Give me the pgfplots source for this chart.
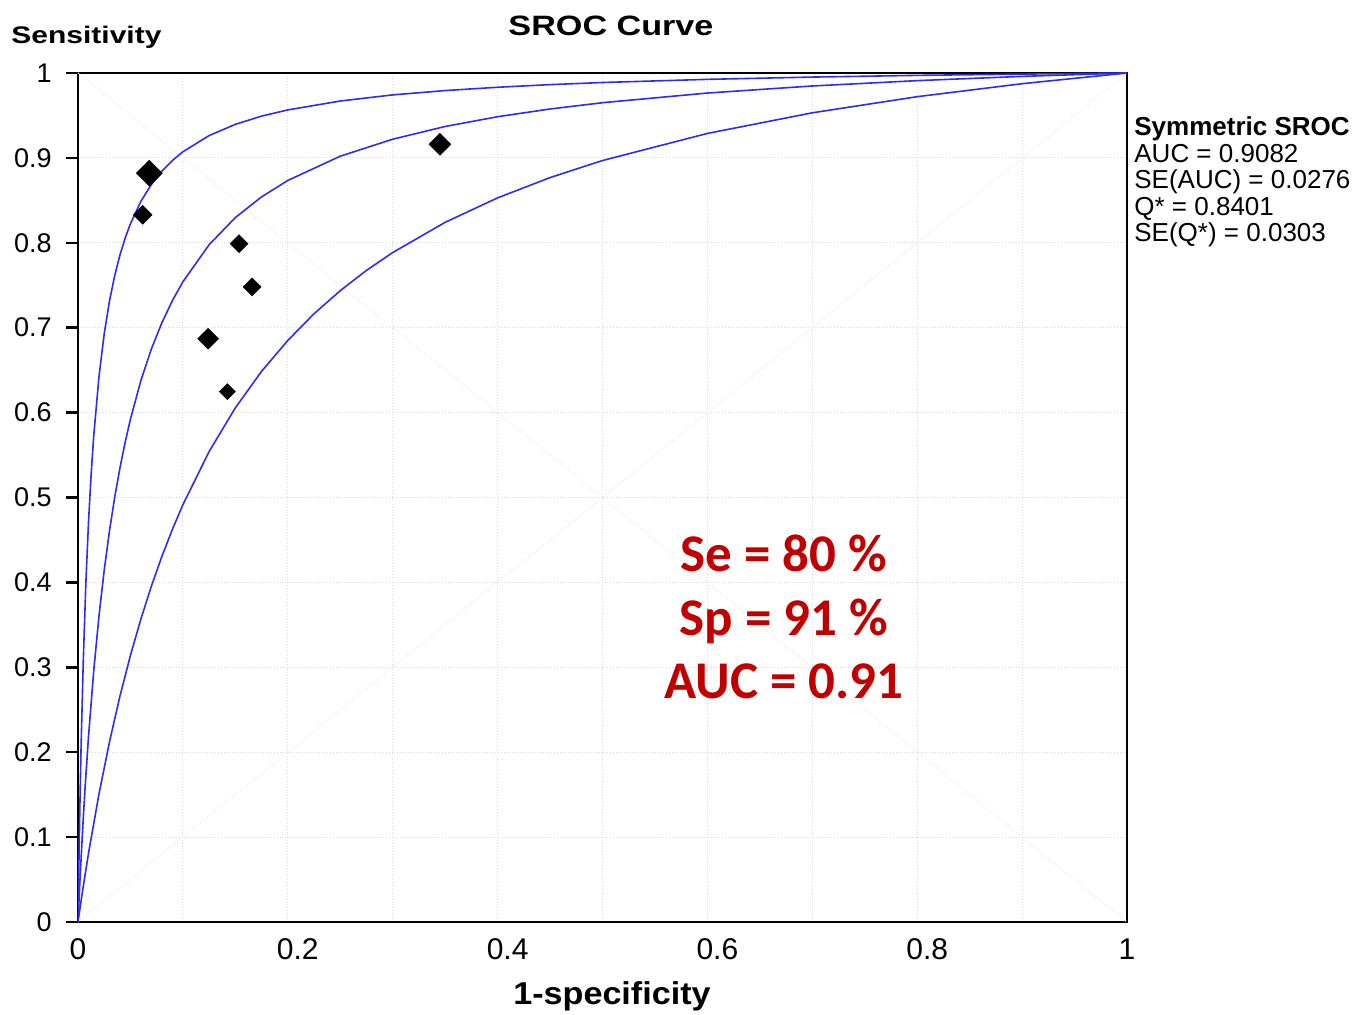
\documentclass[border=0pt]{standalone}
\usepackage{pgfplots}
\pgfplotsset{compat=1.18}
\usepackage{fontspec}
\setmainfont{Liberation Sans}
\newfontfamily\carlito{Carlito}
\definecolor{curveblue}{RGB}{45,45,235}
\definecolor{redtxt}{RGB}{192,0,0}
\begin{document}
\begin{tikzpicture}
\path[use as bounding box] (-39pt,-46pt) rectangle (639pt,461pt);
\begin{axis}[
  at={(0,0)}, anchor=south west,
  scale only axis, width=524.5pt, height=424.5pt,
  xmin=0, xmax=1, ymin=0, ymax=1,
  axis line style={line width=1pt, black},
  xtick={0,0.2,0.4,0.6,0.8,1},
  xticklabels={0,\hspace*{10pt}0.2,\hspace*{10pt}0.4,\hspace*{10pt}0.6,\hspace*{10pt}0.8,1},
  minor xtick={0.1,0.3,0.5,0.7,0.9},
  ytick={0,0.1,0.2,0.3,0.4,0.5,0.6,0.7,0.8,0.9,1},
  yticklabels={0,0.1,0.2,0.3,0.4,0.5,0.6,0.7,0.8,0.9,1},
  xtick pos=bottom, ytick pos=left,
  grid=both,
  grid style={gray!30, densely dotted, line width=0.6pt},
  minor tick length=0pt,
  tick align=outside, major tick length=6pt,
  xtick style={draw=none},
  ytick style={line width=1.2pt, black},
  xticklabel style={font=\fontsize{15}{18}\selectfont, anchor=north, inner sep=0pt, yshift=-2pt},
  yticklabel style={font=\fontsize{13.5}{15}\selectfont, anchor=east, inner sep=0pt, xshift=-7pt},
  clip=true,
]
% faint diagonals
\addplot[gray!15, densely dotted, line width=0.6pt] coordinates {(0,0) (1,1)};
\addplot[gray!15, densely dotted, line width=0.6pt] coordinates {(0,1) (1,0)};
% upper curve
\addplot[curveblue, line width=0.8pt] coordinates {
(0,0) (0.001,0.0810) (0.002,0.1499) (0.003,0.2094) (0.005,0.3066) (0.0075,0.3994)
(0.01,0.4706) (0.0125,0.5269) (0.015,0.5727) (0.02,0.6423) (0.025,0.6929) (0.03,0.7313)
(0.035,0.7614) (0.04,0.7857) (0.045,0.8057) (0.05,0.8224) (0.06,0.8489) (0.07,0.8688)
(0.08,0.8844) (0.09,0.8969) (0.1,0.9072) (0.125,0.9263) (0.15,0.9395) (0.175,0.9492)
(0.2,0.9565) (0.25,0.9670) (0.3,0.9742) (0.35,0.9793) (0.4,0.9832) (0.45,0.9863)
(0.5,0.9888) (0.6,0.9925) (0.7,0.9952) (0.8,0.9972) (0.9,0.9987) (1,1)};
% middle curve
\addplot[curveblue, line width=0.8pt] coordinates {
(0,0) (0.001,0.0269) (0.002,0.0524) (0.005,0.1218) (0.007,0.1629) (0.01,0.2180)
(0.015,0.2959) (0.02,0.3603) (0.025,0.4144) (0.03,0.4605) (0.035,0.5003) (0.04,0.5349)
(0.045,0.5653) (0.05,0.5923) (0.06,0.6379) (0.07,0.6751) (0.08,0.7059) (0.09,0.7319)
(0.1,0.7541) (0.125,0.7977) (0.15,0.8297) (0.175,0.8541) (0.2,0.8734) (0.25,0.9020)
(0.3,0.9220) (0.35,0.9370) (0.4,0.9485) (0.45,0.9576) (0.5,0.9650) (0.6,0.9764)
(0.7,0.9847) (0.8,0.9910) (0.9,0.9960) (1,1)};
% lower curve
\addplot[curveblue, line width=0.8pt] coordinates {
(0,0) (0.002,0.0171) (0.005,0.0419) (0.01,0.0808) (0.02,0.1508) (0.03,0.2120)
(0.04,0.2661) (0.05,0.3141) (0.06,0.3570) (0.07,0.3957) (0.08,0.4307) (0.09,0.4625)
(0.1,0.4915) (0.125,0.5541) (0.15,0.6056) (0.175,0.6486) (0.2,0.6850) (0.225,0.7164)
(0.25,0.7436) (0.275,0.7675) (0.3,0.7885) (0.35,0.8241) (0.4,0.8529) (0.45,0.8768)
(0.5,0.8969) (0.6,0.9288) (0.7,0.9531) (0.8,0.9721) (0.9,0.9874) (1,1)};
% study points
\addplot[only marks, mark=square*, mark size=4.6pt, mark options={rotate=45, fill=black, draw=black, line width=0.2pt}] coordinates {(0.068,0.882)};
\addplot[only marks, mark=square*, mark size=3.9pt, mark options={rotate=45, fill=black, draw=black, line width=0.2pt}] coordinates {(0.345,0.916)};
\addplot[only marks, mark=square*, mark size=3.7pt, mark options={rotate=45, fill=black, draw=black, line width=0.2pt}] coordinates {(0.124,0.687)};
\addplot[only marks, mark=square*, mark size=3.35pt, mark options={rotate=45, fill=black, draw=black, line width=0.2pt}] coordinates {(0.0617,0.833)};
\addplot[only marks, mark=square*, mark size=3.2pt, mark options={rotate=45, fill=black, draw=black, line width=0.2pt}] coordinates {(0.1535,0.799) (0.166,0.748)};
\addplot[only marks, mark=square*, mark size=2.85pt, mark options={rotate=45, fill=black, draw=black, line width=0.2pt}] coordinates {(0.1424,0.6246)};
\end{axis}
% titles and labels
\node[anchor=base, font=\bfseries\fontsize{14}{16}\selectfont, inner sep=0pt] at (266.5pt,443pt) {\scalebox{1.22}[1]{SROC Curve}};
\node[anchor=base west, font=\bfseries\fontsize{12}{14}\selectfont, inner sep=0pt] at (-33.5pt,439pt) {\scalebox{1.25}[1]{Sensitivity}};
\node[anchor=base, font=\bfseries\fontsize{15.8}{18}\selectfont, inner sep=0pt] at (267pt,-41pt) {\scalebox{1.08}[1]{1-specificity}};
% statistics box
\node[anchor=base west, font=\bfseries\fontsize{13}{15}\selectfont, inner sep=0pt] at (528pt,393pt) {Symmetric SROC};
\node[anchor=base west, font=\fontsize{13}{15}\selectfont, inner sep=0pt] at (528pt,379.75pt) {AUC = 0.9082};
\node[anchor=base west, font=\fontsize{13}{15}\selectfont, inner sep=0pt] at (528pt,366.5pt) {SE(AUC) = 0.0276};
\node[anchor=base west, font=\fontsize{13}{15}\selectfont, inner sep=0pt] at (528pt,353.25pt) {Q* = 0.8401};
\node[anchor=base west, font=\fontsize{13}{15}\selectfont, inner sep=0pt] at (528pt,340pt) {SE(Q*) = 0.0303};
% red summary
\node[anchor=base, text=redtxt, font=\carlito\bfseries\fontsize{26.5}{32}\selectfont, inner sep=0pt] at (353pt,175.5pt) {Se = 80 \%};
\node[anchor=base, text=redtxt, font=\carlito\bfseries\fontsize{26.5}{32}\selectfont, inner sep=0pt] at (353pt,143.5pt) {Sp = 91 \%};
\node[anchor=base, text=redtxt, font=\carlito\bfseries\fontsize{26.5}{32}\selectfont, inner sep=0pt] at (353pt,111.85pt) {AUC = 0.91};
\end{tikzpicture}
\end{document}
